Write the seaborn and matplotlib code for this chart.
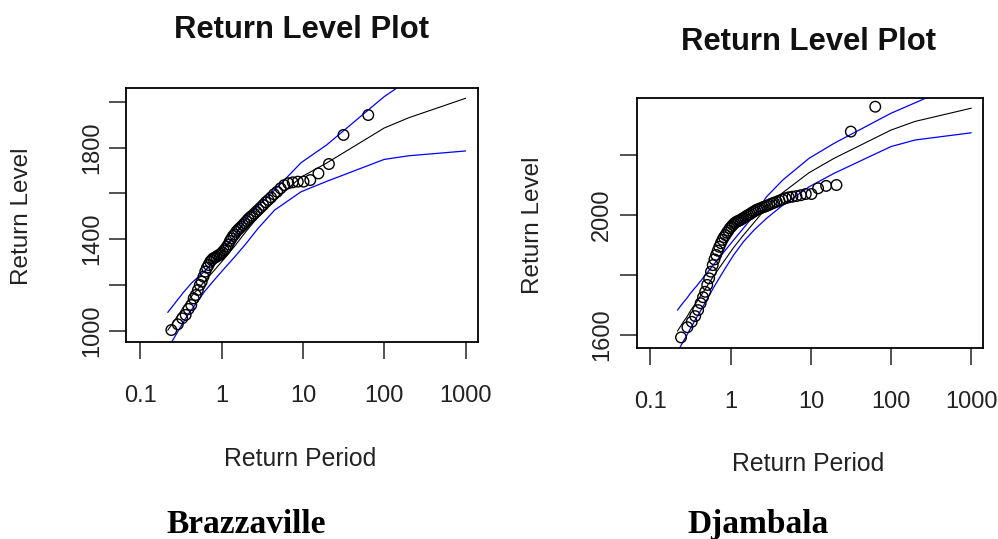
import matplotlib
matplotlib.use("Agg")
import matplotlib.pyplot as plt
import seaborn as sns

sns.set_style("white")
plt.rcParams['font.family'] = ['Liberation Sans', 'DejaVu Sans']

W, H = 998, 539

# ---------------- data ----------------
# empirical return periods of the observations (same length for both stations)
period_obs = [0.2404, 0.2885, 0.3268, 0.3607, 0.3922, 0.4225, 0.4519, 0.4809, 0.5098, 0.5387,
              0.5679, 0.5974, 0.6274, 0.6580, 0.6893, 0.7213, 0.7543, 0.7883, 0.8234, 0.8597,
              0.8973, 0.9365, 0.9772, 1.0196, 1.0638, 1.1101, 1.1587, 1.2096, 1.2633, 1.3198,
              1.3795, 1.4427, 1.5097, 1.5810, 1.6570, 1.7380, 1.8248, 1.9183, 2.0190, 2.1276,
              2.2455, 2.3741, 2.5146, 2.6688, 2.8392, 3.0285, 3.2394, 3.4761, 3.7440, 4.0505,
              4.4034, 4.8158, 5.3027, 5.8860, 6.6002, 7.4881, 8.6351, 10.163, 12.300, 15.495,
              20.833, 31.502, 63.502]

# return periods at which the fitted curve and its confidence limits are drawn
curve_period = [0.2171, 0.2556, 0.2852, 0.3107, 0.3338, 0.3554, 0.3760, 0.3959, 0.4153, 0.4343,
                0.6213, 0.8306, 1.0914, 1.4427, 1.9576, 2.8037, 4.4814, 9.4912, 19.496, 99.499,
                199.5, 999.5]

# Brazzaville
brz_obs = [1003, 1028, 1054, 1069, 1095, 1112, 1141, 1156, 1178, 1200,
           1214, 1236, 1258, 1275, 1287, 1301, 1309, 1316, 1319, 1323,
           1328, 1331, 1336, 1342, 1350, 1357, 1367, 1377, 1392, 1403,
           1414, 1421, 1432, 1440, 1447, 1454, 1462, 1470, 1479, 1488,
           1496, 1502, 1511, 1520, 1529, 1539, 1549, 1561, 1571, 1582,
           1596, 1607, 1622, 1636, 1644, 1648, 1651, 1651, 1658, 1687,
           1728, 1855, 1942]
brz_fit = [1002, 1038, 1063, 1082, 1100, 1113, 1125, 1136, 1145, 1154,
           1217, 1268, 1317, 1369, 1430, 1497, 1571, 1671, 1732, 1885,
           1930, 2015]
brz_lo = [923, 964, 993, 1015, 1034, 1050, 1064, 1076, 1086, 1096,
          1173, 1226, 1274, 1322, 1377, 1447, 1527, 1607, 1652, 1748,
          1764, 1785]
brz_hi = [1080, 1112, 1134, 1150, 1165, 1176, 1186, 1195, 1204, 1211,
          1261, 1310, 1360, 1415, 1483, 1546, 1614, 1734, 1811, 2022,
          2095, 2240]

# Djambala
djb_obs = [1592, 1626, 1644, 1663, 1683, 1706, 1726, 1744, 1767, 1789,
           1811, 1833, 1852, 1867, 1881, 1894, 1906, 1917, 1926, 1933,
           1941, 1948, 1956, 1961, 1967, 1972, 1976, 1979, 1981, 1983,
           1987, 1990, 1993, 1997, 2000, 2003, 2007, 2011, 2014, 2018,
           2020, 2023, 2026, 2028, 2031, 2034, 2038, 2041, 2044, 2048,
           2052, 2056, 2059, 2061, 2063, 2066, 2070, 2070, 2089, 2097,
           2100, 2278, 2361]
djb_fit = [1613, 1643, 1661, 1678, 1690, 1701, 1710, 1719, 1728, 1735,
           1799, 1847, 1892, 1933, 1975, 2025, 2075, 2141, 2189, 2283,
           2312, 2356]
djb_lo = [1544, 1578, 1600, 1619, 1633, 1647, 1658, 1668, 1678, 1687,
          1761, 1817, 1867, 1911, 1950, 1989, 2033, 2094, 2139, 2228,
          2250, 2274]
djb_hi = [1683, 1708, 1723, 1737, 1747, 1756, 1763, 1771, 1778, 1784,
          1837, 1878, 1917, 1956, 2000, 2061, 2117, 2189, 2239, 2339,
          2374, 2456]

x_ticks = [0.1, 1, 10, 100, 1000]
x_ticklabels = ["0.1", "1", "10", "100", "1000"]
brz_yticks = [1000, 1200, 1400, 1600, 1800, 2000]
brz_yticklabels = ["1000", "", "1400", "", "1800", ""]
djb_yticks = [1600, 1800, 2000, 2200]
djb_yticklabels = ["1600", "", "2000", ""]

title = "Return Level Plot"
xlab = "Return Period"
ylab = "Return Level"
stations = ["Brazzaville", "Djambala"]

# ---------------- figure ----------------
fig = plt.figure(figsize=(W / 100, H / 100), dpi=100)


def px_axes(x0, y0, x1, y1):
    return fig.add_axes([x0 / W, 1 - y1 / H, (x1 - x0) / W, (y1 - y0) / H])


def panel(ax, obs, fit, lo, hi, xlim, ylim, yticks, yticklabels):
    sns.lineplot(x=curve_period, y=fit, color="black", lw=0.8, ax=ax,
                 estimator=None, sort=False)
    sns.lineplot(x=curve_period, y=hi, color="#0000FF", lw=0.9, ax=ax,
                 estimator=None, sort=False)
    sns.lineplot(x=curve_period, y=lo, color="#0000FF", lw=0.9, ax=ax,
                 estimator=None, sort=False)
    sns.scatterplot(x=period_obs, y=obs, marker="o", s=58, facecolor="none",
                    edgecolor="black", linewidth=1.0, ax=ax, zorder=3)
    ax.set_xscale("log")
    ax.set_xlim(*xlim)
    ax.set_ylim(*ylim)
    ax.set_xticks(x_ticks)
    ax.set_xticklabels(x_ticklabels)
    ax.set_yticks(yticks)
    ax.set_yticklabels(yticklabels, va="center")
    ax.minorticks_off()
    for sp in ax.spines.values():
        sp.set_visible(True)
        sp.set_color("black")
        sp.set_linewidth(1.3)
    ax.tick_params(axis="both", which="major", bottom=True, left=True,
                   direction="out", length=12, width=1.1, color="#222222",
                   labelsize=17, labelcolor="#222222")
    ax.tick_params(axis="x", pad=19)
    ax.tick_params(axis="y", pad=5, labelrotation=90)
    ax.set_xlabel("")
    ax.set_ylabel("")


ax1 = px_axes(126.5, 88, 478, 342)
panel(ax1, brz_obs, brz_fit, brz_lo, brz_hi, (0.0675, 1422), (950.7, 2060),
      brz_yticks, brz_yticklabels)

ax2 = px_axes(636.7, 98.3, 983.3, 348.3)
panel(ax2, djb_obs, djb_fit, djb_lo, djb_hi, (0.0673, 1413), (1555.7, 2389),
      djb_yticks, djb_yticklabels)


def ftext(x, y, s, **kw):
    fig.text(x / W, 1 - y / H, s, **kw)


# titles
ftext(302, 38.3, title, ha="center", va="baseline", fontsize=22.3, fontweight="bold", color="#111111")
ftext(808.5, 50, title, ha="center", va="baseline", fontsize=22.3, fontweight="bold", color="#111111")
# axis labels
ftext(300, 466, xlab, ha="center", va="baseline", fontsize=17.8, color="#222222")
ftext(808, 471, xlab, ha="center", va="baseline", fontsize=17.8, color="#222222")
ftext(22, 216, ylab, ha="center", va="center", rotation=90, fontsize=17.5, color="#222222")
ftext(533, 225, ylab, ha="center", va="center", rotation=90, fontsize=17.5, color="#222222")
# station names
ftext(246, 533, stations[0], ha="center", va="baseline", fontsize=24,
      fontweight="bold", family=["Liberation Serif", "DejaVu Serif"], color="black")
ftext(758, 533, stations[1], ha="center", va="baseline", fontsize=24,
      fontweight="bold", family=["Liberation Serif", "DejaVu Serif"], color="black")

fig.savefig("out.png", dpi=100, facecolor="white")
